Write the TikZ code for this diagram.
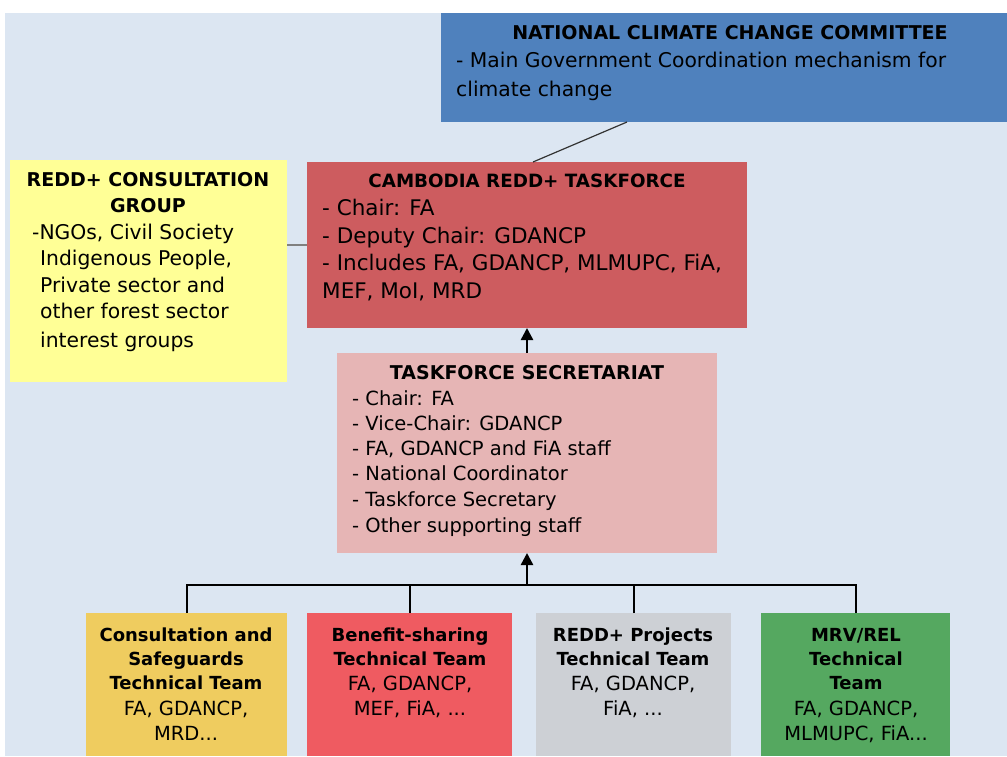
\documentclass[tikz,border=0pt]{standalone}
\usepackage{fontspec}
\setmainfont{DejaVu Sans}
\usetikzlibrary{arrows.meta,calc}
\newlength{\du}
\setlength{\du}{1pt}
\definecolor{bgblue}{rgb}{0.863,0.902,0.949}
\definecolor{ncccblue}{rgb}{0.310,0.506,0.741}
\definecolor{taskred}{rgb}{0.804,0.361,0.373}
\definecolor{groupyellow}{rgb}{1.000,1.000,0.588}
\definecolor{secpink}{rgb}{0.902,0.710,0.710}
\definecolor{csgold}{rgb}{0.937,0.800,0.373}
\definecolor{bsred}{rgb}{0.937,0.357,0.380}
\definecolor{rpgray}{rgb}{0.804,0.816,0.835}
\definecolor{mrvgreen}{rgb}{0.333,0.659,0.376}

\begin{document}
\begin{tikzpicture}
\pgftransformxscale{1.000000}
\pgftransformyscale{-1.000000}
\tikzset{
  blk/.style={draw=none, inner sep=0pt, outer sep=0pt},
  txt/.style={inner sep=0pt, anchor=base west, font=\fontsize{#1}{24}\selectfont},
  txt/.default=20,
  ttl/.style={inner sep=0pt, anchor=base, font=\fontsize{#1}{24}\selectfont\bfseries},
  ttl/.default=18.6,
  ctr/.style={inner sep=0pt, anchor=base, font=\fontsize{19.5}{24}\selectfont},
  link/.style={line width=2\du},
  up/.style={line width=2.5\du, -{Triangle[width=12pt,length=12pt]}}
}
\useasboundingbox (0\du,0\du) rectangle (1007\du,756\du);
% background
\fill[bgblue] (5\du,13\du) rectangle (1007\du,756\du);

% boxes
\node[blk, fill=ncccblue, minimum width=566\du, minimum height=109\du] (nccc) at (724\du,67.5\du) {};
\node[blk, fill=groupyellow, minimum width=277\du, minimum height=222\du] (group) at (148.5\du,271\du) {};
\node[blk, fill=taskred, minimum width=440\du, minimum height=166\du] (task) at (527\du,245\du) {};
\node[blk, fill=secpink, minimum width=380\du, minimum height=200\du] (sec) at (527\du,453\du) {};
\node[blk, fill=csgold, minimum width=201\du, minimum height=143\du] (cst) at (186.5\du,684.5\du) {};
\node[blk, fill=bsred, minimum width=205\du, minimum height=143\du] (bst) at (409.5\du,684.5\du) {};
\node[blk, fill=rpgray, minimum width=195\du, minimum height=143\du] (rpt) at (633.5\du,684.5\du) {};
\node[blk, fill=mrvgreen, minimum width=189\du, minimum height=143\du] (mrv) at (855.5\du,684.5\du) {};

% connectors
\draw[line width=1.2\du, black!80] ($(nccc.south west)+(186\du,0)$) -- ($(task.north west)+(226\du,0)$);
\coordinate (tk) at ($(task.north west)+(0,83\du)$);
\draw[link, black!50] (tk) -- (group.east |- tk);
\draw[up] (sec.north) -- (task.south);
\coordinate (bus) at (527\du,585\du);
\draw[up] (bus) -- (sec.south);
\draw[link] (cst.north) -- (cst.north |- bus) -- (mrv.north |- bus) -- (mrv.north);
\draw[link] (bst.north) -- (bst.north |- bus);
\draw[link] (rpt.north) -- (rpt.north |- bus);

% NATIONAL CLIMATE CHANGE COMMITTEE
\node[ttl=19] (nccct) at (730\du,39\du) {NATIONAL CLIMATE CHANGE COMMITTEE};
\node[txt=20.3] (nccc1) at (456\du,67\du) {- Main Government Coordination mechanism for};
\node[txt=20.3] (nccc2) at (456\du,96\du) {climate change};

% REDD+ CONSULTATION GROUP
\node[ttl=19] (groupt1) at (148\du,186\du) {REDD+ CONSULTATION};
\node[ttl=19] (groupt2) at (148\du,212\du) {GROUP};
\node[txt=20.3] (group1) at (32\du,239\du) {-NGOs, Civil Society};
\node[txt=20.3] (group2) at (40\du,265\du) {Indigenous People,};
\node[txt=20.3] (group3) at (40\du,292\du) {Private sector and};
\node[txt=20.3] (group4) at (40\du,318\du) {other forest sector};
\node[txt=20.3] (group5) at (40\du,347\du) {interest groups};

% CAMBODIA REDD+ TASKFORCE
\node[ttl=18.3] (taskt) at (527\du,187\du) {CAMBODIA REDD+ TASKFORCE};
\node[txt=21.5] (task1) at (322\du,215\du) {- Chair: FA};
\node[txt=21.5] (task2) at (322\du,243\du) {- Deputy Chair: GDANCP};
\node[txt=21.5] (task3) at (322\du,270\du) {- Includes FA, GDANCP, MLMUPC, FiA,};
\node[txt=21.5] (task4) at (322\du,298\du) {MEF, MoI, MRD};

% TASKFORCE SECRETARIAT
\node[ttl=19] (sect) at (527\du,379\du) {TASKFORCE SECRETARIAT};
\node[txt=19.5] (sec1) at (352\du,405\du) {- Chair: FA};
\node[txt=19.5] (sec2) at (352\du,430\du) {- Vice-Chair: GDANCP};
\node[txt=19.5] (sec3) at (352\du,455\du) {- FA, GDANCP and FiA staff};
\node[txt=19.5] (sec4) at (352\du,480\du) {- National Coordinator};
\node[txt=19.5] (sec5) at (352\du,506\du) {- Taskforce Secretary};
\node[txt=19.5] (sec6) at (352\du,532\du) {- Other supporting staff};

% technical teams
\node[ttl=18] (cst1) at (186\du,641\du) {Consultation and};
\node[ttl=18] (cst2) at (186\du,665\du) {Safeguards};
\node[ttl=18] (cst3) at (186\du,689\du) {Technical Team};
\node[ctr] (cst4) at (186\du,715\du) {FA, GDANCP,};
\node[ctr] (cst5) at (186\du,740\du) {MRD...};

\node[ttl=18] (bst1) at (410\du,641\du) {Benefit-sharing};
\node[ttl=18] (bst2) at (410\du,665\du) {Technical Team};
\node[ctr] (bst3) at (410\du,690\du) {FA, GDANCP,};
\node[ctr] (bst4) at (410\du,715\du) {MEF, FiA, ...};

\node[ttl=18] (rpt1) at (633\du,641\du) {REDD+ Projects};
\node[ttl=18] (rpt2) at (633\du,665\du) {Technical Team};
\node[ctr] (rpt3) at (633\du,690\du) {FA, GDANCP,};
\node[ctr] (rpt4) at (633\du,715\du) {FiA, ...};

\node[ttl=18] (mrv1) at (856\du,641\du) {MRV/REL};
\node[ttl=18] (mrv2) at (856\du,665\du) {Technical};
\node[ttl=18] (mrv3) at (856\du,689\du) {Team};
\node[ctr] (mrv4) at (856\du,715\du) {FA, GDANCP,};
\node[ctr] (mrv5) at (856\du,740\du) {MLMUPC, FiA...};
\end{tikzpicture}
\end{document}
